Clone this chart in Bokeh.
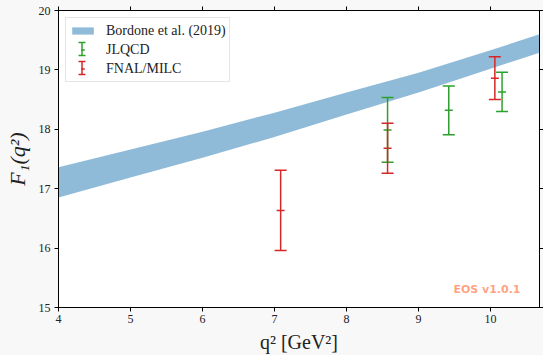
from bokeh.plotting import figure
from bokeh.models import (ColumnDataSource, Whisker, TeeHead, Legend, LegendItem,
                          LinearAxis, FixedTicker, Range1d, Label, GlobalInlineStyleSheet,
                          CustomJSTickFormatter)
from bokeh.embed import file_html
from bokeh.resources import INLINE

# ---- data ----
band_q2 = [4.0, 5.0, 6.0, 7.0, 8.0, 9.0, 10.0, 10.68]
band_upper = [17.36, 17.66, 17.96, 18.28, 18.62, 18.95, 19.33, 19.60]
band_lower = [16.85, 17.19, 17.52, 17.87, 18.25, 18.62, 19.02, 19.29]

jlqcd_q2 = [8.57, 9.42, 10.16]
jlqcd_f1 = [17.99, 18.32, 18.63]
jlqcd_err = [0.545, 0.41, 0.33]

fnal_q2 = [7.085, 8.57, 10.06]
fnal_f1 = [16.635, 17.68, 18.86]
fnal_err = [0.675, 0.42, 0.36]

x_ticks = [4, 5, 6, 7, 8, 9, 10]
y_ticks = [15, 16, 17, 18, 19, 20]

GREEN = "#2ca02c"
RED = "#d62728"
BLUE = "#1f77b4"

W, H = 543, 355
BL, BR, BT, BB = 58, 4, 10, 48

p = figure(width=W, height=H, x_range=Range1d(4, 10.68), y_range=Range1d(15, 20),
           output_backend="svg", toolbar_location=None,
           min_border_left=BL, min_border_right=BR, min_border_top=BT, min_border_bottom=BB,
           background_fill_color="white", border_fill_color="#f8f8f8")
p.grid.visible = False
p.outline_line_color = "black"
p.outline_line_width = 1
p.stylesheets = [GlobalInlineStyleSheet(css="body{background:#f8f8f8;}")]


def style_axis(ax, ticks):
    ax.ticker = FixedTicker(ticks=ticks)
    ax.axis_line_color = "black"
    ax.axis_line_width = 1
    ax.major_tick_line_color = "black"
    ax.major_tick_out = 4
    ax.major_tick_in = 0
    ax.minor_tick_line_color = None
    ax.major_label_text_font = "Liberation Serif"
    ax.major_label_text_font_size = "12px"
    ax.major_label_text_color = "#222222"


style_axis(p.xaxis[0], x_ticks)
style_axis(p.yaxis[0], y_ticks)
p.xaxis.major_label_standoff = 3
p.yaxis.major_label_standoff = 4
p.xaxis.axis_label = "q² [GeV²]"
p.xaxis.axis_label_text_font = "Liberation Serif"
p.xaxis.axis_label_text_font_style = "normal"
p.xaxis.axis_label_text_font_size = "20px"
p.xaxis.axis_label_text_color = "#222222"
p.xaxis.axis_label_standoff = 5
p.yaxis.axis_label = "F₁(q²)"
p.yaxis.axis_label_text_font = "Liberation Serif"
p.yaxis.axis_label_text_font_style = "italic"
p.yaxis.axis_label_text_font_size = "22px"
p.yaxis.axis_label_text_color = "#222222"
p.yaxis.axis_label_standoff = 6

blank = CustomJSTickFormatter(code="return ''")
top_ax = LinearAxis(formatter=blank)
style_axis(top_ax, x_ticks)
top_ax.major_label_text_font_size = "0px"
top_ax.major_label_standoff = 0
p.add_layout(top_ax, "above")

right_ax = LinearAxis(formatter=CustomJSTickFormatter(code="return ''"))
style_axis(right_ax, y_ticks)
right_ax.major_label_text_font_size = "0px"
right_ax.major_label_standoff = 0
p.add_layout(right_ax, "right")

# ---- band ----
band_src = ColumnDataSource(dict(x=band_q2, lo=band_lower, hi=band_upper))
band_r = p.varea(x="x", y1="lo", y2="hi", source=band_src,
                 fill_color=BLUE, fill_alpha=0.5)


def errorbars(xs, ys, errs, color):
    src = ColumnDataSource(dict(x=xs, y=ys,
                                upper=[y + e for y, e in zip(ys, errs)],
                                lower=[y - e for y, e in zip(ys, errs)]))
    w = Whisker(base="x", upper="upper", lower="lower", source=src, dimension="height",
                line_color=color, line_width=1.5, level="glyph",
                upper_head=TeeHead(size=12, line_color=color, line_width=1.5),
                lower_head=TeeHead(size=12, line_color=color, line_width=1.5))
    p.add_layout(w)
    r = p.scatter("x", "y", source=src, marker="dash", size=8,
                  line_color=color, line_width=1.5)
    return r


j_r = errorbars(jlqcd_q2, jlqcd_f1, jlqcd_err, GREEN)
f_r = errorbars(fnal_q2, fnal_f1, fnal_err, RED)

legend = Legend(items=[LegendItem(label="Bordone et al. (2019)", renderers=[band_r]),
                       LegendItem(label="JLQCD", renderers=[j_r]),
                       LegendItem(label="FNAL/MILC", renderers=[f_r])],
                location="top_left", margin=7, padding=3, spacing=0,
                glyph_width=27, glyph_height=9, label_height=19, label_standoff=10,
                label_text_font="Liberation Serif", label_text_font_size="14px",
                label_text_color="#222222",
                border_line_color="#cccccc", border_line_width=1,
                background_fill_color="white", background_fill_alpha=0.0)
p.add_layout(legend)

# error-bar icons for the legend (frame screen units)
frame_h = H - BT - BB
frame_w = W - BL - BR
icon_x = 7 + 3 + 13.5
row_tops = [7 + 3 + 19, 7 + 3 + 38]
for rt, color in zip(row_tops, [GREEN, RED]):
    cy = frame_h - (rt + 9.5)
    isrc = ColumnDataSource(dict(b=[icon_x], u=[cy + 6.5], l=[cy - 6.5]))
    wi = Whisker(base="b", upper="u", lower="l", source=isrc, dimension="height",
                 base_units="screen", upper_units="screen", lower_units="screen",
                 line_color=color, line_width=1.5, level="overlay",
                 upper_head=TeeHead(size=7, line_color=color, line_width=1.5),
                 lower_head=TeeHead(size=7, line_color=color, line_width=1.5))
    p.add_layout(wi)

p.add_layout(Label(x=frame_w - 19, y=18, x_units="screen", y_units="screen",
                   text="EOS v1.0.1", text_align="right", text_baseline="middle",
                   text_font="DejaVu Sans", text_font_style="bold", text_font_size="11px",
                   text_color="orangered", text_alpha=0.5))

open("out.html", "w").write(file_html(p, INLINE))
